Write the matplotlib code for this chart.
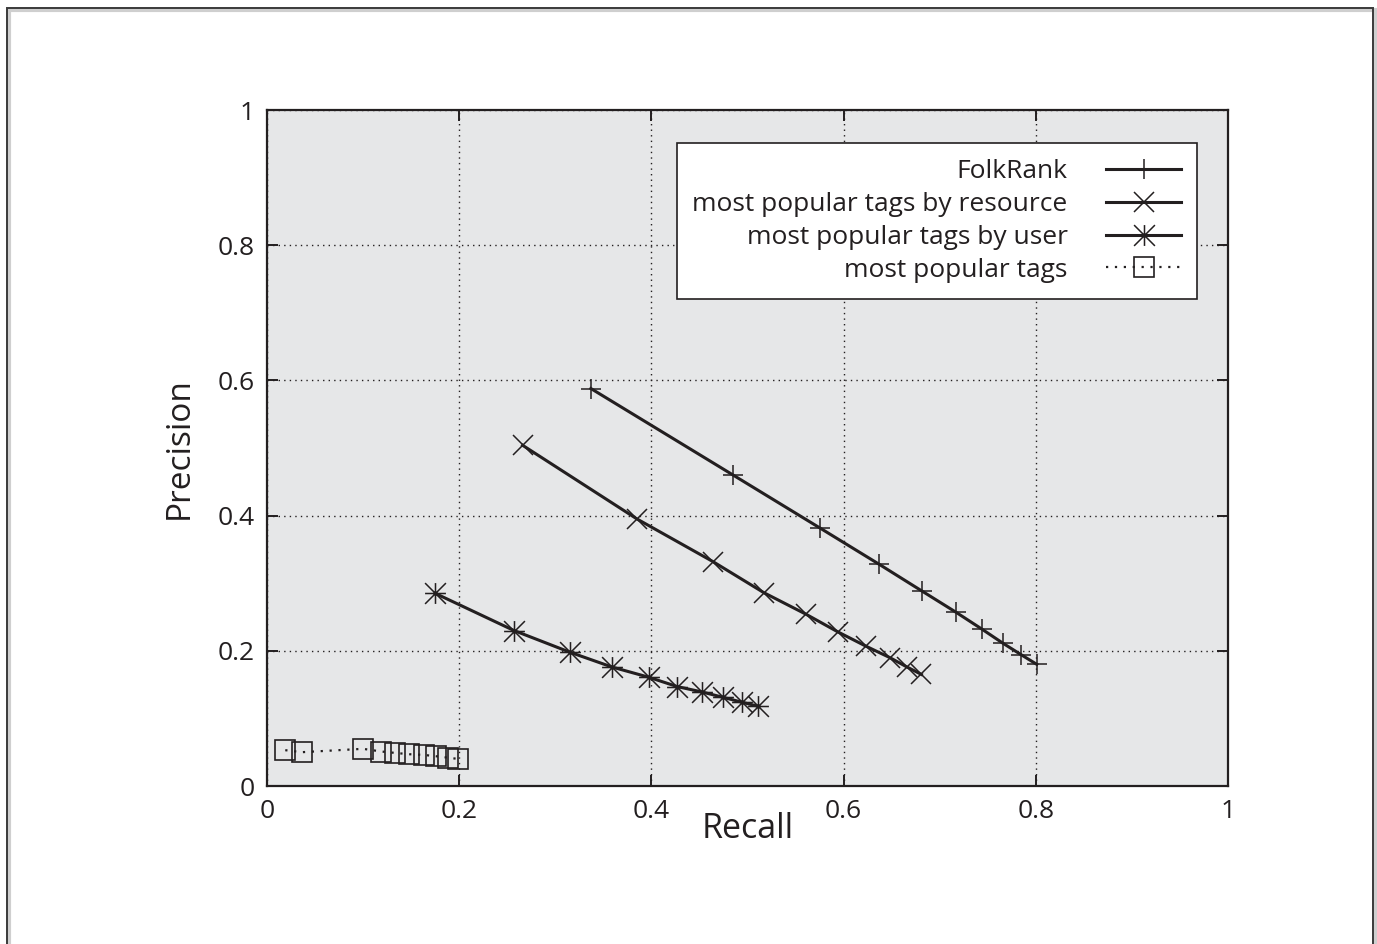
import matplotlib
matplotlib.use("Agg")
import matplotlib.pyplot as plt
from matplotlib.path import Path
from matplotlib.markers import MarkerStyle
from matplotlib.patches import Rectangle

plt.rcParams['font.family'] = ['Open Sans', 'DejaVu Sans']

# ---- data ----
folkrank_recall = [0.337, 0.485, 0.575, 0.637, 0.682, 0.717, 0.744, 0.766, 0.785, 0.801]
folkrank_prec = [0.588, 0.460, 0.382, 0.328, 0.288, 0.257, 0.232, 0.211, 0.194, 0.180]

resource_recall = [0.266, 0.385, 0.464, 0.517, 0.561, 0.594, 0.623, 0.648, 0.666, 0.681]
resource_prec = [0.504, 0.395, 0.332, 0.286, 0.254, 0.228, 0.207, 0.190, 0.176, 0.165]

user_recall = [0.175, 0.257, 0.315, 0.359, 0.397, 0.427, 0.453, 0.475, 0.494, 0.511]
user_prec = [0.285, 0.230, 0.198, 0.176, 0.161, 0.147, 0.139, 0.131, 0.124, 0.118]

popular_recall = [0.019, 0.036, 0.100, 0.119, 0.133, 0.148, 0.163, 0.176, 0.188, 0.199]
popular_prec = [0.053, 0.050, 0.055, 0.051, 0.049, 0.047, 0.046, 0.044, 0.042, 0.040]

labels = ["FolkRank", "most popular tags by resource",
          "most popular tags by user", "most popular tags"]
tick_values = [0, 0.2, 0.4, 0.6, 0.8, 1]
tick_labels = ["0", "0.2", "0.4", "0.6", "0.8", "1"]

ink = "#231f20"
bg = "#e6e7e8"

# star marker: plus + cross
star_path = Path(
    [(-1, 0), (1, 0), (0, -1), (0, 1), (-1, -1), (1, 1), (-1, 1), (1, -1)],
    [Path.MOVETO, Path.LINETO] * 4)
star = MarkerStyle(star_path)

fig = plt.figure(figsize=(13.77, 9.44), dpi=100)
fig.patch.set_facecolor("white")

# outer frame with light shadow
fig.patches.append(Rectangle((9 / 1377, -0.05), 1367 / 1377, 1 - 10 / 944 + 0.05,
                             transform=fig.transFigure, fill=False,
                             edgecolor="#cfcfcf", linewidth=3.0, zorder=0))
fig.patches.append(Rectangle((7 / 1377, -0.05), 1366 / 1377, 1 - 8 / 944 + 0.05,
                             transform=fig.transFigure, fill=False,
                             edgecolor="#3a3a3a", linewidth=1.4, zorder=1))

ax = fig.add_axes([267 / 1377, 1 - 786 / 944, 961 / 1377, 676 / 944])
ax.set_facecolor(bg)

lw = 2.2
ms = 15
mew = 1.1
h1, = ax.plot(folkrank_recall, folkrank_prec, color=ink, lw=lw, marker="+",
              ms=ms, mew=mew, label=labels[0], zorder=3)
h2, = ax.plot(resource_recall, resource_prec, color=ink, lw=lw, marker="x",
              ms=ms, mew=mew, label=labels[1], zorder=3)
h3, = ax.plot(user_recall, user_prec, color=ink, lw=lw, marker=star,
              ms=ms, mew=mew, label=labels[2], zorder=3)
h4, = ax.plot(popular_recall, popular_prec, color=ink, lw=1.6, ls=(0, (1, 3)),
              marker="s", ms=ms, mew=1.2, mfc="none", mec=ink,
              label=labels[3], zorder=3)

ax.set_xlim(0, 1)
ax.set_ylim(0, 1)
ax.set_xticks(tick_values)
ax.set_xticklabels(tick_labels)
ax.set_yticks(tick_values)
ax.set_yticklabels(tick_labels)
ax.tick_params(direction="in", length=8, width=1.4, colors=ink, labelsize=19,
               top=True, right=True, pad=9)
ax.grid(True, color=ink, ls=(0, (1, 3)), lw=1.0)
ax.set_axisbelow(True)
for s in ax.spines.values():
    s.set_linewidth(1.6)
    s.set_color(ink)

ax.set_xlabel("Recall", fontsize=24.5, color=ink, labelpad=-8)
ax.set_ylabel("Precision", fontsize=24, color=ink, labelpad=15.5)

leg = ax.legend(handles=[h1, h2, h3, h4], loc="upper right",
                bbox_to_anchor=(0.9677, 0.951), markerfirst=False,
                fontsize=19, frameon=True, fancybox=False, shadow=False,
                edgecolor=ink, facecolor="white", framealpha=1,
                handlelength=2.85, numpoints=1, labelspacing=0.3,
                borderpad=0.6, handletextpad=1.45, borderaxespad=0)
leg.get_frame().set_linewidth(1.2)
for t in leg.get_texts():
    t.set_color(ink)

fig.savefig("out.png", dpi=100, facecolor="white")
